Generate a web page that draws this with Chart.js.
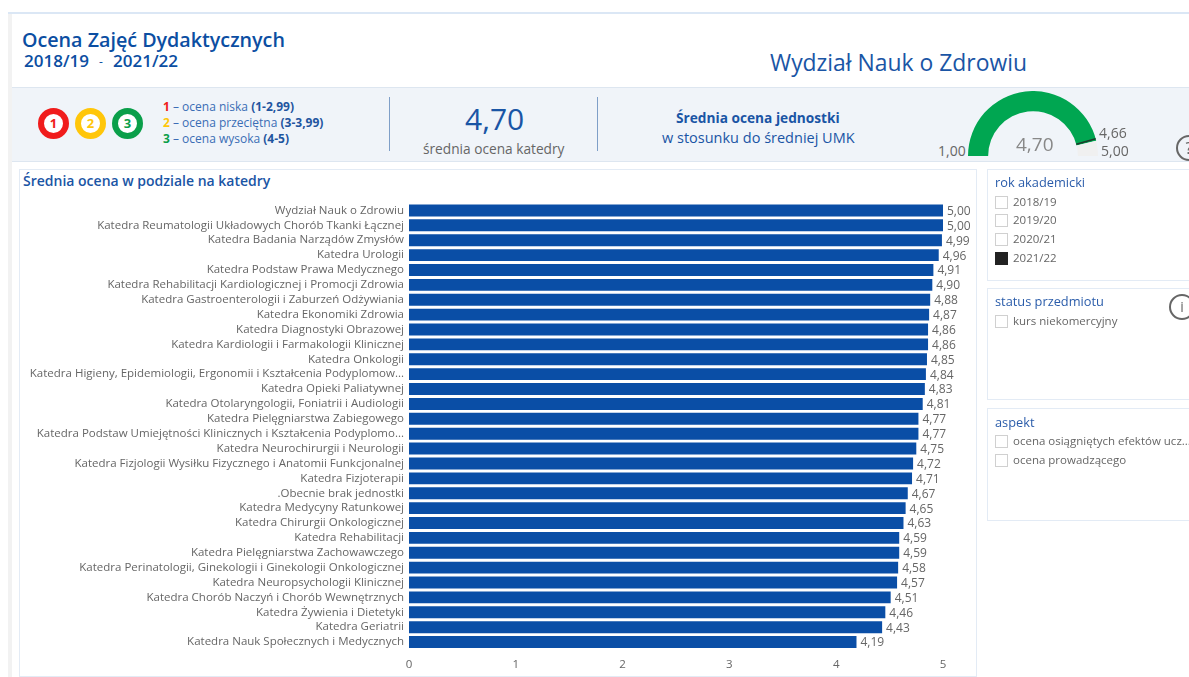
<!DOCTYPE html>
<html lang="pl">
<head>
<meta charset="utf-8">
<title>Ocena Zajęć Dydaktycznych</title>
<script src="https://cdn.jsdelivr.net/npm/chart.js@4"></script>
<style>
  html, body { margin: 0; padding: 0; background: #fff; overflow: hidden; }
  body { width: 1189px; height: 677px; position: relative; font-family: "Open Sans", sans-serif; color: #0b4ea2; }
  .abs { position: absolute; white-space: nowrap; }
  .box { position: absolute; border: 1px solid #e3ebf5; background: #fff; box-sizing: border-box; }
  .chk { position: absolute; width: 13px; height: 13px; border: 1px solid #d0d0d0; box-sizing: border-box; background: #fff; }
  .opt { position: absolute; font-size: 11.5px; color: #666; white-space: nowrap; }
  .filtr { position: absolute; font-size: 12.8px; color: #2a5caa; white-space: nowrap; }
  .ring { position: absolute; width: 19px; height: 19px; border-radius: 50%; background: #fff; border-style: solid; border-width: 6px;
          font-size: 13px; font-weight: 700; line-height: 19px; text-align: center; }
  .ic { position: absolute; width: 22px; height: 22px; border: 2px solid #666; border-radius: 50%; color: #666; text-align: center; font-size: 16px; line-height: 22px; }
</style>
</head>
<body>
<div class="abs" style="left:8px;top:12px;width:1181px;height:2px;background:#dbe7f5"></div>
<div class="abs" style="left:8px;top:14px;width:4px;height:663px;background:#f2f2f2"></div>
<div class="abs" style="left:12px;top:87px;width:1177px;height:75px;background:#f0f4f9;border-top:1px solid #dde6f0;border-bottom:1px solid #dde6f0;box-sizing:border-box"></div>

<div class="abs" style="left:22px;top:26px;font-size:19.7px;font-weight:600">Ocena Zajęć Dydaktycznych</div>
<div class="abs" style="left:24px;top:49px;font-size:17px;font-weight:600">2018/19</div>
<div class="abs" style="left:99px;top:53px;font-size:12px">-</div>
<div class="abs" style="left:113px;top:49px;font-size:17px;font-weight:600">2021/22</div>
<div class="abs" style="left:770px;top:47px;font-size:22.9px;color:#1a55a5">Wydział Nauk o Zdrowiu</div>

<div class="ring" style="left:38px;top:108px;border-color:#f01c1c;color:#f01c1c">1</div>
<div class="ring" style="left:75px;top:108px;border-color:#ffc60a;color:#ffc60a">2</div>
<div class="ring" style="left:112px;top:108px;border-color:#0a9f4a;color:#0a9f4a">3</div>

<div class="abs" style="left:163px;top:98px;font-size:12px;color:#3a6db5"><b style="color:#f01c1c">1</b> – ocena niska <b style="color:#1f559f">(1-2,99)</b></div>
<div class="abs" style="left:163px;top:114px;font-size:12px;color:#3a6db5"><b style="color:#ffc60a">2</b> – ocena przeciętna <b style="color:#1f559f">(3-3,99)</b></div>
<div class="abs" style="left:163px;top:130px;font-size:12px;color:#3a6db5"><b style="color:#0a9f4a">3</b> – ocena wysoka <b style="color:#1f559f">(4-5)</b></div>

<div class="abs" style="left:389px;top:97px;width:1px;height:54px;background:#7f9fc8"></div>
<div class="abs" style="left:597px;top:97px;width:1px;height:54px;background:#7f9fc8"></div>
<div class="abs" style="left:465px;top:98px;font-size:30px;color:#1a55a5">4,70</div>
<div class="abs" style="left:423px;top:139px;font-size:13.7px;color:#666">średnia ocena katedry</div>
<div class="abs" style="left:676px;top:108px;font-size:13.7px;font-weight:700;color:#1a55a5">Średnia ocena jednostki</div>
<div class="abs" style="left:662px;top:128px;font-size:14.5px;color:#1a55a5">w stosunku do średniej UMK</div>

<canvas id="wskaznik" class="abs" style="left:968px;top:91px"></canvas>
<div class="abs" style="left:938px;top:141px;font-size:14px;color:#666">1,00</div>
<div class="abs" style="left:1016px;top:131px;font-size:19px;color:#888">4,70</div>
<div class="abs" style="left:1099px;top:123px;font-size:14px;color:#666">4,66</div>
<div class="abs" style="left:1101px;top:141px;font-size:14px;color:#666">5,00</div>
<div class="ic" style="left:1176px;top:135px">?</div>

<div class="box" style="left:19px;top:169px;width:958px;height:508px"></div>
<div class="abs" style="left:23px;top:171px;font-size:14px;font-weight:600;color:#1a55a5">Średnia ocena w podziale na katedry</div>
<canvas id="wykres" class="abs" style="left:20px;top:195px"></canvas>

<div class="box" style="left:987px;top:169px;width:210px;height:112px"></div>
<div class="filtr" style="left:995px;top:173px">rok akademicki</div>
<div class="chk" style="left:995px;top:196px"></div><div class="opt" style="left:1013px;top:194px">2018/19</div>
<div class="chk" style="left:995px;top:214px"></div><div class="opt" style="left:1013px;top:212px">2019/20</div>
<div class="chk" style="left:995px;top:233px"></div><div class="opt" style="left:1013px;top:231px">2020/21</div>
<div class="chk" style="left:995px;top:252px;background:#222;border-color:#222"></div><div class="opt" style="left:1013px;top:250px">2021/22</div>

<div class="box" style="left:987px;top:288px;width:210px;height:112px"></div>
<div class="filtr" style="left:995px;top:292px">status przedmiotu</div>
<div class="chk" style="left:995px;top:315px"></div><div class="opt" style="left:1013px;top:313px">kurs niekomercyjny</div>
<div class="ic" style="left:1169px;top:294px;font-size:14px">i</div>

<div class="box" style="left:987px;top:408px;width:210px;height:113px"></div>
<div class="filtr" style="left:995px;top:413px">aspekt</div>
<div class="chk" style="left:995px;top:435px"></div><div class="opt" style="left:1013px;top:433px">ocena osiągniętych efektów ucz...</div>
<div class="chk" style="left:995px;top:454px"></div><div class="opt" style="left:1013px;top:452px">ocena prowadzącego</div>

<script>
const katedry = [
    "Wydział Nauk o Zdrowiu",
    "Katedra Reumatologii Układowych Chorób Tkanki Łącznej",
    "Katedra Badania Narządów Zmysłów",
    "Katedra Urologii",
    "Katedra Podstaw Prawa Medycznego",
    "Katedra Rehabilitacji Kardiologicznej i Promocji Zdrowia",
    "Katedra Gastroenterologii i Zaburzeń Odżywiania",
    "Katedra Ekonomiki Zdrowia",
    "Katedra Diagnostyki Obrazowej",
    "Katedra Kardiologii i Farmakologii Klinicznej",
    "Katedra Onkologii",
    "Katedra Higieny, Epidemiologii, Ergonomii i Kształcenia Podyplomow...",
    "Katedra Opieki Paliatywnej",
    "Katedra Otolaryngologii, Foniatrii i Audiologii",
    "Katedra Pielęgniarstwa Zabiegowego",
    "Katedra Podstaw Umiejętności Klinicznych i Kształcenia Podyplomo...",
    "Katedra Neurochirurgii i Neurologii",
    "Katedra Fizjologii Wysiłku Fizycznego i Anatomii Funkcjonalnej",
    "Katedra Fizjoterapii",
    ".Obecnie brak jednostki",
    "Katedra Medycyny Ratunkowej",
    "Katedra Chirurgii Onkologicznej",
    "Katedra Rehabilitacji",
    "Katedra Pielęgniarstwa Zachowawczego",
    "Katedra Perinatologii, Ginekologii i Ginekologii Onkologicznej",
    "Katedra Neuropsychologii Klinicznej",
    "Katedra Chorób Naczyń i Chorób Wewnętrznych",
    "Katedra Żywienia i Dietetyki",
    "Katedra Geriatrii",
    "Katedra Nauk Społecznych i Medycznych"
];
const oceny = [5.00, 5.00, 4.99, 4.96, 4.91, 4.90, 4.88, 4.87, 4.86, 4.86, 4.85, 4.84, 4.83, 4.81, 4.77,
    4.77, 4.75, 4.72, 4.71, 4.67, 4.65, 4.63, 4.59, 4.59, 4.58, 4.57, 4.51, 4.46, 4.43, 4.19];
const osX = [0, 1, 2, 3, 4, 5];

const wskaznikMin = 1.00;
const wskaznikMax = 5.00;
const wskaznikWartosc = 4.70;
const wskaznikCel = 4.66;

// etykiety wartosci na koncu slupkow
const etykietySlupkow = {
    id: 'etykietySlupkow',
    afterDatasetsDraw(chart) {
        const ctx = chart.ctx;
        ctx.save();
        ctx.font = '12px "Open Sans"';
        ctx.fillStyle = '#666';
        ctx.textBaseline = 'middle';
        chart.getDatasetMeta(0).data.forEach((el, i) => {
            ctx.fillText(oceny[i].toFixed(2).replace('.', ','), el.x + 4, el.y + 1);
        });
        ctx.restore();
    }
};

const wykres = document.getElementById('wykres');
wykres.width = 955;
wykres.height = 480;
new Chart(wykres, {
    type: 'bar',
    plugins: [etykietySlupkow],
    data: {
        labels: katedry,
        datasets: [{
            data: oceny,
            backgroundColor: '#0a4ea6',
            categoryPercentage: 1,
            barPercentage: 0.8
        }]
    },
    options: {
        indexAxis: 'y',
        responsive: false,
        animation: false,
        layout: { padding: { top: 8, right: 32 } },
        plugins: { legend: { display: false }, tooltip: { enabled: false } },
        scales: {
            x: {
                min: 0,
                max: 5,
                afterBuildTicks: (s) => { s.ticks = osX.map(v => ({ value: v })); },
                grid: { display: false, tickLength: 5 },
                border: { display: false },
                ticks: { color: '#666', font: { family: '"Open Sans"', size: 11.5 }, maxRotation: 0 },
                afterFit: (s) => { s.height = 25.5; }
            },
            y: {
                grid: { display: false, drawTicks: false },
                border: { display: false },
                ticks: { color: '#666', autoSkip: false, padding: 5, font: { family: '"Open Sans"', size: 11.5 } },
                afterFit: (s) => { s.width = 389; s.paddingTop = 0; s.paddingBottom = 0; }
            }
        }
    }
});

// znacznik sredniej UMK na wskazniku
const znacznik = {
    id: 'znacznik',
    afterDatasetsDraw(chart) {
        const luk = chart.getDatasetMeta(0).data[0];
        const kat = Math.PI * (1 + (wskaznikCel - wskaznikMin) / (wskaznikMax - wskaznikMin));
        const ctx = chart.ctx;
        ctx.save();
        ctx.strokeStyle = '#1f3a2c';
        ctx.lineWidth = 1.5;
        ctx.beginPath();
        ctx.moveTo(luk.x + Math.cos(kat) * luk.innerRadius, luk.y + Math.sin(kat) * luk.innerRadius);
        ctx.lineTo(luk.x + Math.cos(kat) * luk.outerRadius, luk.y + Math.sin(kat) * luk.outerRadius);
        ctx.stroke();
        ctx.restore();
    }
};

const wskaznik = document.getElementById('wskaznik');
wskaznik.width = 130;
wskaznik.height = 65;
new Chart(wskaznik, {
    type: 'doughnut',
    plugins: [znacznik],
    data: {
        datasets: [{
            data: [wskaznikWartosc - wskaznikMin, wskaznikMax - wskaznikWartosc],
            backgroundColor: ['#00a651', '#f0f0f0'],
            borderWidth: 0
        }]
    },
    options: {
        responsive: false,
        animation: false,
        rotation: -90,
        circumference: 180,
        cutout: '69%',
        plugins: { legend: { display: false }, tooltip: { enabled: false } }
    }
});
</script>
</body>
</html>
